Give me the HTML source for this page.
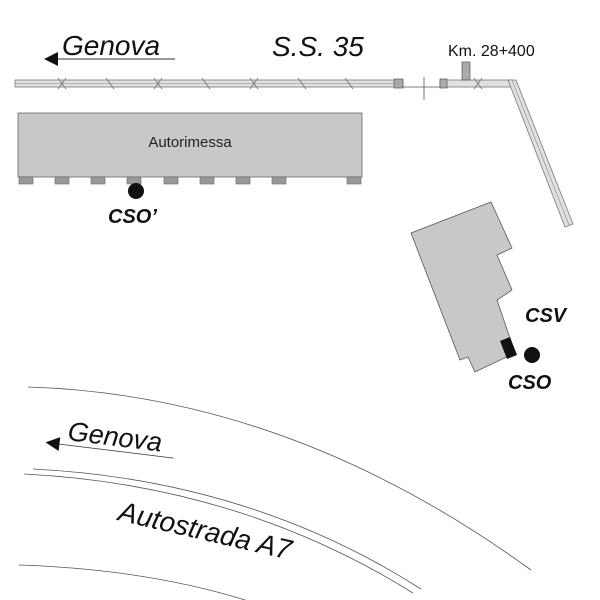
<!DOCTYPE html>
<html><head><style>body{margin:0;background:#fff}svg{display:block}</style></head><body>
<svg width="600" height="600" viewBox="0 0 600 600" xmlns="http://www.w3.org/2000/svg" font-family="Liberation Sans, sans-serif">
<!-- top Genova -->
<text x="62" y="55" font-size="28" font-style="italic" fill="#111">Genova</text>
<line x1="58" y1="59" x2="175" y2="59" stroke="#333" stroke-width="1"/>
<polygon points="44,59 58,52 58,66" fill="#111"/>
<text x="272" y="56" font-size="28" font-style="italic" fill="#111">S.S. 35</text>
<text x="448" y="56" font-size="16" fill="#111">Km. 28+400</text>
<!-- road top -->
<rect x="15" y="80" width="388" height="7" fill="#e0e0e0" stroke="#777" stroke-width="0.8"/>
<line x1="15" y1="83.5" x2="403" y2="83.5" stroke="#888" stroke-width="0.6"/>
<g stroke="#666" stroke-width="0.7">
<path d="M58,78 L66,89 M66,78 L58,89"/><path d="M106,78 L114,89"/><path d="M154,78 L162,89 M162,78 L154,89"/><path d="M202,78 L210,89"/><path d="M250,78 L258,89 M258,78 L250,89"/><path d="M298,78 L306,89"/><path d="M345,78 L353,89"/>
</g>
<rect x="394" y="79" width="9" height="9" fill="#aaa" stroke="#555" stroke-width="0.7"/>
<line x1="403" y1="87" x2="440" y2="87" stroke="#555" stroke-width="0.8"/>
<line x1="424" y1="77" x2="424" y2="100" stroke="#555" stroke-width="0.8"/>
<rect x="440" y="80" width="72" height="7" fill="#e0e0e0" stroke="#777" stroke-width="0.8"/>
<rect x="440" y="79" width="7" height="9" fill="#aaa" stroke="#555" stroke-width="0.7"/>
<rect x="462" y="62" width="8" height="18" fill="#aaa" stroke="#555" stroke-width="0.7"/>
<path d="M474,78 L482,89 M482,78 L474,89" stroke="#666" stroke-width="0.7"/>
<polygon points="508,80 516,80 573,224 565,227" fill="#e0e0e0" stroke="#777" stroke-width="0.8"/>
<line x1="512" y1="80" x2="569" y2="225" stroke="#888" stroke-width="0.6"/>
<!-- Autorimessa -->
<rect x="18" y="113" width="344" height="64" fill="#c8c8c8" stroke="#666" stroke-width="0.8"/>
<text x="190" y="147" font-size="15" text-anchor="middle" fill="#222">Autorimessa</text>
<g fill="#999" stroke="#666" stroke-width="0.6">
<rect x="19" y="177" width="14" height="7"/><rect x="55" y="177" width="14" height="7"/><rect x="91" y="177" width="14" height="7"/><rect x="127" y="177" width="14" height="7"/><rect x="164" y="177" width="14" height="7"/><rect x="200" y="177" width="14" height="7"/><rect x="236" y="177" width="14" height="7"/><rect x="272" y="177" width="14" height="7"/><rect x="347" y="177" width="14" height="7"/>
</g>
<circle cx="136" cy="191" r="8" fill="#111"/>
<text x="108" y="223" font-size="20" font-weight="bold" font-style="italic" fill="#111">CSO’</text>
<!-- building -->
<polygon points="411,233 491,202 512,248 497,255 512,290 497,300 515,353 475,372 468,357 460,360" fill="#c8c8c8" stroke="#555" stroke-width="0.8"/>
<polygon points="500,341 510,337 517,355 507,359" fill="#111"/>
<circle cx="532" cy="355" r="8" fill="#111"/>
<text x="525" y="322" font-size="20" font-weight="bold" font-style="italic" fill="#111">CSV</text>
<text x="508" y="389" font-size="20" font-weight="bold" font-style="italic" fill="#111">CSO</text>
<!-- autostrada -->
<g fill="none" stroke="#555" stroke-width="0.8">
<path d="M28,387 Q290,395 531,570"/>
<path d="M33,469 Q250,480 421,589"/>
<path d="M24,474 Q240,485 413,593"/>
<path d="M19,565 Q170,570 283,613"/>
</g>
<g transform="rotate(7 67 440)">
<text x="67" y="440" font-size="27" font-style="italic" fill="#111">Genova</text>
<line x1="60" y1="445" x2="175" y2="445" stroke="#333" stroke-width="0.8"/>
<polygon points="46,445 60,438 60,452" fill="#111"/>
</g>
<text x="117" y="520" font-size="28" font-style="italic" fill="#111" transform="rotate(13 117 520)">Autostrada A7</text>
</svg>
</body></html>
